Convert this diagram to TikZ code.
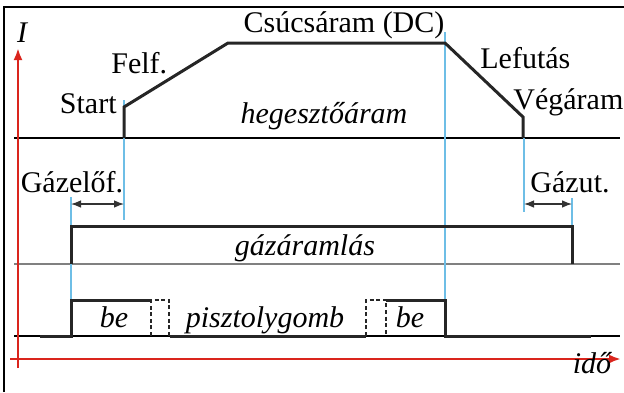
\documentclass[tikz,border=0pt]{standalone}
\usepackage{fontspec}
\setmainfont{Liberation Serif}
\usetikzlibrary{arrows.meta}
\definecolor{axisred}{RGB}{218,37,29}
\definecolor{timeblue}{RGB}{110,190,230}
\begin{document}
\begin{tikzpicture}[x=0.5pt,y=-0.5pt,
	sig/.style={line width=1.5pt,black!85},
	dashsig/.style={line width=1.1pt,black!85,dash pattern=on 2pt off 1.3pt},
	baseln/.style={line width=0.6pt},
	timeln/.style={line width=0.8pt,timeblue},
	axis/.style={line width=1.4pt,axisred,-{Latex[length=6pt,width=4.5pt]}},
	dim/.style={line width=0.6pt,black!80,{Latex[length=5pt,width=3.8pt]}-{Latex[length=5pt,width=3.8pt]}},
	lbl/.style={font=\fontsize{15}{18}\selectfont,inner sep=0pt,anchor=base},
	ilbl/.style={lbl,font=\fontsize{15}{18}\selectfont\itshape}]
	\useasboundingbox (0,0) rectangle (624,392);

	% Frame (cut off at right and bottom)
	\draw[line width=0.8pt] (4,392) -- (4,7) -- (624,7);

	% Row baselines
	\draw[baseln] (14,138) -- (620,138);
	\draw[baseln,gray] (14,264) -- (620,264);
	\draw[baseln] (14,336) -- (620,336);

	% Time markers
	\draw[timeln] (124,100) -- (124,220);
	\draw[timeln] (445,32) -- (445,300);
	\draw[timeln] (524,138) -- (524,212);
	\draw[timeln] (71,197) -- (71,300);
	\draw[timeln] (572,198) -- (572,226);

	% Gas pre-flow and post-flow times
	\coordinate (preA) at (71,204);
	\coordinate (preB) at (124,204);
	\coordinate (postA) at (524,204);
	\coordinate (postB) at (572,204);
	\draw[dim] (preA) -- (preB);
	\draw[dim] (postA) -- (postB);

	% Welding current
	\draw[sig] (124,138) -- (124,107) -- (228,43) -- (445,43) -- (523,117) -- (523,138);

	% Gas flow
	\draw[sig] (71,264) -- (71,226) -- (572,226) -- (572,264);

	% Torch button
	\draw[sig] (40,336) -- (71,336) -- (71,300) -- (151,300);
	\draw[dashsig] (151,336) -- (151,300) -- (169,300) -- (169,336);
	\draw[sig] (170,336) -- (366,336);
	\draw[dashsig] (366,336) -- (366,300) -- (386,300) -- (386,336);
	\draw[sig] (386,300) -- (445,300) -- (445,336) -- (591,336);

	% Axes
	\draw[axis] (18,368) -- (18,48);
	\draw[axis] (10,359) -- (621,359);
	\node[ilbl] (ilabel) at (22,42) {I};
	\node[ilbl] (idolabel) at (592,373) {idő};

	% Labels
	\node[lbl,anchor=base east] (start) at (117,113) {Start};
	\node[lbl,anchor=base west] (felf) at (111,73) {Felf.};
	\node[lbl] (csucs) at (344,32) {Csúcsáram (DC)};
	\node[lbl,anchor=base west] (lefut) at (480,68) {Lefutás};
	\node[lbl,anchor=base west] (vegaram) at (513,109) {Végáram};
	\node[ilbl] (heg) at (324,123) {hegesztőáram};
	\node[lbl] (gazelof) at (72,192) {Gázelőf.};
	\node[lbl] (gazut) at (570,192) {Gázut.};
	\node[ilbl] (gazaram) at (305,255) {gázáramlás};
	\node[ilbl] (beA) at (114,327) {be};
	\node[ilbl] (pisztoly) at (265,327) {pisztolygomb};
	\node[ilbl] (beB) at (410,327) {be};
\end{tikzpicture}
\end{document}
